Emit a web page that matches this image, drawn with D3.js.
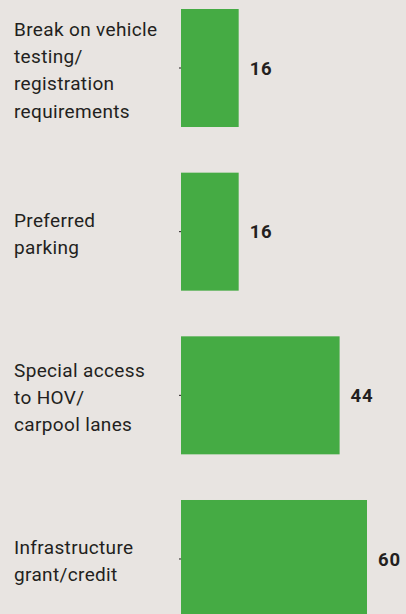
<!DOCTYPE html>
<html><head><meta charset="utf-8">
<script src="https://cdn.jsdelivr.net/npm/d3@7"></script>
<style>html,body{margin:0;padding:0;background:#e8e4e1;overflow:hidden}</style>
</head><body>
<svg id="c" width="406" height="614"></svg>
<script>
const categories = [
  ["Break on vehicle","testing/","registration","requirements"],
  ["Preferred","parking"],
  ["Special access","to HOV/","carpool lanes"],
  ["Infrastructure","grant/credit"]
];
const values = [16, 16, 44, 60];
const valueLabels = ["16", "16", "44", "60"];

const svg = d3.select("#c");
const W = 406, H = 614;
svg.append("rect").attr("width", W).attr("height", H).attr("fill", "#e8e4e1");

const ids = d3.range(values.length);
const y = d3.scaleBand().domain(ids).range([9, 618]).paddingInner(0.279).paddingOuter(0);
const x = d3.scaleLinear().domain([0, 51.6]).range([181, 367]).clamp(true);

const axis = d3.axisLeft(y).tickSize(2).tickFormat("");
const ag = svg.append("g").attr("transform", "translate(181,0)").call(axis);
ag.select(".domain").remove();
ag.selectAll(".tick line").attr("stroke", "#231f20");

svg.selectAll("rect.bar").data(values).join("rect")
  .attr("class", "bar")
  .attr("x", x(0))
  .attr("y", (d, i) => y(i))
  .attr("width", d => x(d) - x(0))
  .attr("height", y.bandwidth())
  .attr("fill", "#45ab44");

svg.selectAll("text.val").data(values).join("text")
  .attr("class", "val")
  .attr("x", d => x(d) + 11)
  .attr("y", (d, i) => y(i) + y.bandwidth() / 2)
  .attr("dy", "0.36em")
  .attr("font-family", "Roboto, 'DejaVu Sans', sans-serif")
  .attr("font-weight", "bold")
  .attr("font-size", 18.5)
  .attr("letter-spacing", 0.8)
  .attr("fill", "#231f20")
  .text((d, i) => valueLabels[i]);

const lh = 27.3;
const lg = svg.selectAll("text.cat").data(categories).join("text")
  .attr("class", "cat")
  .attr("font-family", "Roboto, 'DejaVu Sans', sans-serif")
  .attr("font-size", 19)
  .attr("letter-spacing", 0.35)
  .attr("fill", "#231f20");
lg.each(function (lines, i) {
  const cy = y(i) + y.bandwidth() / 2 + 2;
  const top = cy - (lines.length - 1) * lh / 2;
  d3.select(this).selectAll("tspan").data(lines).join("tspan")
    .attr("x", 14)
    .attr("y", (d, j) => top + j * lh)
    .attr("dy", "0.35em")
    .text(d => d);
});
</script>
</body></html>
